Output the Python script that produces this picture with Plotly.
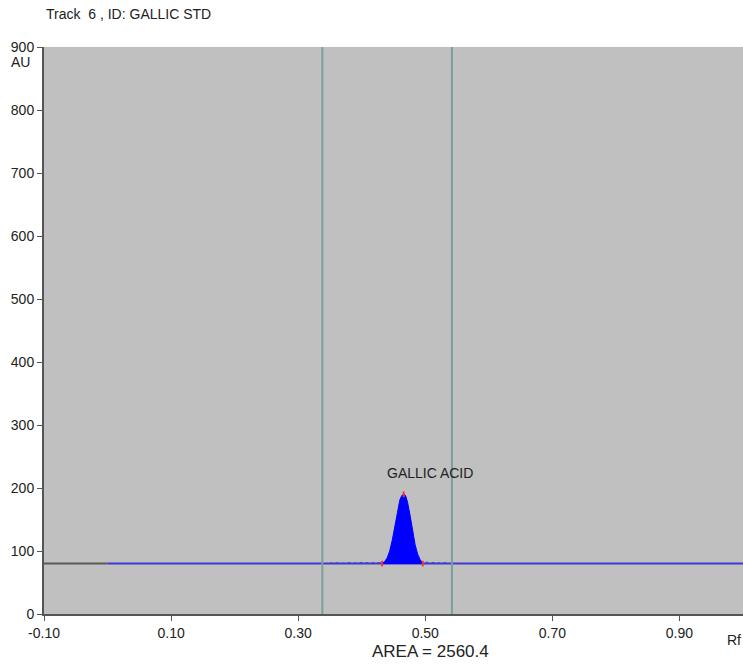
import plotly.graph_objects as go

# ---- data ----
title_text = "Track  6 , ID: GALLIC STD"
peak_label = "GALLIC ACID"
area_text = "AREA = 2560.4"

baseline_au = 80
pre_rf = [-0.10, 0.00]
pre_au = [80, 80]
base_rf = [0.00, 1.00]
base_au = [80, 80]

# small noise on baseline before/after the peak
noise_rf = [0.340, 0.350, 0.360, 0.370, 0.380, 0.390, 0.400, 0.410, 0.420, 0.428,
            0.500, 0.508, 0.515, 0.522, 0.530, 0.540]
noise_au = [80.0, 80.8, 81.3, 80.6, 81.5, 81.0, 81.8, 81.2, 82.0, 81.5,
            82.5, 81.2, 81.8, 80.9, 81.6, 80.2]

peak_rf = [0.432, 0.436, 0.440, 0.444, 0.448, 0.452, 0.456, 0.460, 0.463, 0.466,
           0.469, 0.472, 0.476, 0.480, 0.484, 0.488, 0.492, 0.496]
peak_au = [80.5, 83, 89, 100, 117, 140, 163, 181, 188, 190,
           188, 178, 157, 132, 110, 95, 86, 81]

marker_rf = [0.432, 0.466, 0.496, 0.542]
marker_au = [80, 190, 80, 80]

window_rf = [0.338, 0.542]

x_ticks = [-0.10, 0.10, 0.30, 0.50, 0.70, 0.90]
x_tick_text = ["-0.10", "0.10", "0.30", "0.50", "0.70", "0.90"]
y_ticks = [0, 100, 200, 300, 400, 500, 600, 700, 800, 900]

FONT = "Liberation Sans, Arial"

fig = go.Figure()

fig.add_trace(go.Scatter(x=pre_rf, y=pre_au, mode="lines",
                         line=dict(color="#5a5a5a", width=2), hoverinfo="skip"))
fig.add_trace(go.Scatter(x=base_rf, y=base_au, mode="lines",
                         line=dict(color="#3b3bd6", width=2), hoverinfo="skip"))
fig.add_trace(go.Scatter(x=noise_rf, y=noise_au, mode="lines",
                         line=dict(color="#3b3bd6", width=1, dash="dot"), hoverinfo="skip"))
fig.add_trace(go.Scatter(
    x=peak_rf + [peak_rf[-1], peak_rf[0]],
    y=peak_au + [baseline_au, baseline_au],
    mode="lines", fill="toself", fillcolor="#0000ff",
    line=dict(color="#0000ff", width=1), hoverinfo="skip"))
fig.add_trace(go.Scatter(x=marker_rf, y=marker_au, mode="markers",
                         marker=dict(color="#ff3030", size=4, symbol="line-ns",
                                     line=dict(color="#ff3030", width=2)),
                         hoverinfo="skip"))

for xv in window_rf:
    fig.add_shape(type="line", x0=xv, x1=xv, y0=0, y1=1, yref="paper", xref="x",
                  line=dict(color="#7a9e9e", width=2))

fig.add_annotation(x=0.507, y=208, text=peak_label, showarrow=False,
                   xanchor="center", yanchor="bottom",
                   font=dict(family=FONT, size=14, color="#222"))
fig.add_annotation(x=0.508, xref="x", y=0, yref="paper", text=area_text,
                   showarrow=False, xanchor="center", yanchor="top", yshift=-26,
                   font=dict(family=FONT, size=17, color="#222"))
fig.add_annotation(x=1.0, xref="paper", y=0, yref="paper", text="Rf",
                   showarrow=False, xanchor="right", yanchor="top", yshift=-16,
                   font=dict(family=FONT, size=14, color="#222"))
fig.add_annotation(x=0, xref="paper", y=1, yref="paper", text="AU",
                   showarrow=False, xanchor="right", yanchor="top", xshift=-12, yshift=-5,
                   font=dict(family=FONT, size=14, color="#222"))
fig.add_annotation(x=0, xref="paper", y=1, yref="paper", text=title_text,
                   showarrow=False, xanchor="left", yanchor="bottom", yshift=23,
                   font=dict(family=FONT, size=14, color="#222"))

fig.update_layout(
    width=743, height=665,
    margin=dict(l=44, r=0, t=47, b=51),
    paper_bgcolor="white", plot_bgcolor="#c0c0c0",
    showlegend=False,
    font=dict(family=FONT, size=14, color="#222"),
)
fig.update_xaxes(range=[-0.10, 1.00], tickvals=x_ticks, ticktext=x_tick_text,
                 showgrid=False, zeroline=False, showline=True, linecolor="#555",
                 linewidth=2, ticks="outside", ticklen=5, tickcolor="#555")
fig.update_yaxes(range=[0, 900], tickvals=y_ticks, showgrid=False, zeroline=False,
                 showline=True, linecolor="#555", linewidth=2, ticks="outside",
                 ticklen=5, tickcolor="#555")

fig.write_html("out.html",
               config={"displayModeBar": False, "staticPlot": True},
               post_script="document.body.style.margin='0';"
                           "document.body.style.overflow='hidden';")
